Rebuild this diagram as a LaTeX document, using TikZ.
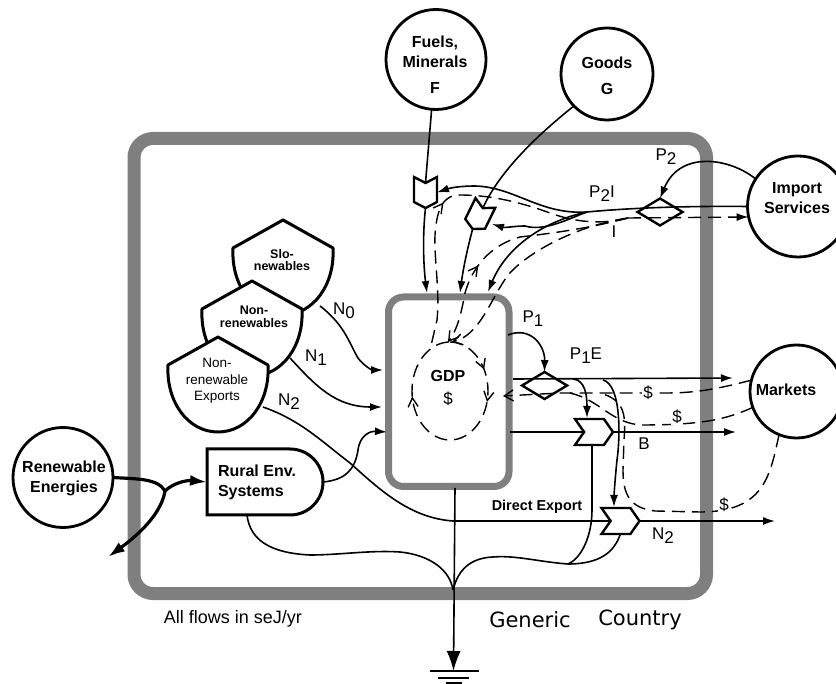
\documentclass[tikz,border=0pt]{standalone}
\usepackage{fontspec}
\setmainfont{Liberation Sans}
\newfontfamily\wideface{DejaVu Sans}
\usepackage{xcolor}
\usetikzlibrary{arrows.meta,calc,shapes.geometric,shapes.symbols,shapes.misc,decorations.markings}
\definecolor{framegray}{HTML}{7F7F7F}
\newcommand{\subtxt}[2]{#1\raisebox{-4pt}{#2}}
\tikzset{
  source/.style={draw,circle,line width=2.8pt,fill=white,inner sep=0pt,outer sep=0pt},
  prices/.style={draw,diamond,line width=2.4pt,inner sep=0pt,outer sep=0pt,minimum width=45pt,minimum height=27pt},
  export/.style={draw,signal,signal to=east,signal from=west,line width=2.4pt,fill=white,inner sep=0pt,outer sep=0pt,signal pointer angle=110},
  storage/.style={line width=3pt,fill=white,line join=round},
  flow/.style={line width=1.6pt},
  bigflow/.style={line width=3.2pt},
  money/.style={line width=1.4pt,dash pattern=on 13pt off 7pt},
  tip/.style={-{Latex[length=12pt,width=8pt]}},
  barb/.style={-{Straight Barb[length=9pt,width=11pt]}},
  midbarb/.style={postaction={decorate,decoration={markings,mark=at position #1 with {\arrowreversed[line width=1.4pt]{Straight Barb[length=9pt,width=10pt]}}}}},
  fwdbarb/.style={postaction={decorate,decoration={markings,mark=at position #1 with {\arrow[line width=1.4pt]{Straight Barb[length=9pt,width=10pt]}}}}},
  lab/.style={font=\fontsize{17}{19}\selectfont,inner sep=1pt},
  blab/.style={font=\fontsize{16}{20}\selectfont\bfseries,align=center,inner sep=0pt}
}
\begin{document}
\begin{tikzpicture}[x=1pt,y=-1pt]
  \useasboundingbox (0,0) rectangle (836,684);
  \clip (0,0) rectangle (836,684);
  % frames
  \node[draw=framegray,line width=13pt,rounded corners=19pt,minimum width=572.5pt,minimum height=455pt,outer sep=0pt,inner sep=0pt] (country) at (420.25,366) {};
  \node[draw=framegray,line width=7pt,rounded corners=15pt,minimum width=120.5pt,minimum height=189.5pt,outer sep=0pt,inner sep=0pt] (gdp) at (448.75,391.75) {};
  % outside sources
  \node[source,minimum size=100pt] (fuels) at (436,59.5) {};
  \node[source,minimum size=92pt] (goods) at (607,74) {};
  \node[source,minimum size=101pt] (import) at (798,206.5) {};
  \node[source,minimum size=93pt] (markets) at (796.5,391.5) {};
  \node[source,minimum size=100pt] (renew) at (63,477.5) {};
  \node[draw,rounded rectangle,rounded rectangle left arc=none,line width=3pt,minimum width=116pt,minimum height=66pt,inner sep=0pt,outer sep=0pt] (rural) at (265,482) {};
  % price and exchange symbols
  \node[prices] (pimp) at (660,212) {};
  \node[prices] (pexp) at (544.5,385.5) {};
  \node[export,minimum width=31pt,minimum height=23pt,rotate=-90,signal pointer angle=125] (fint) at (425.5,192.5) {};
  \node[export,minimum width=29pt,minimum height=22pt,rotate=-116,signal pointer angle=125] (gint) at (479,216) {};
  % end points
  \coordinate (split) at (587,212);
  \coordinate (dsplit) at (628,218);
  \coordinate (gdpa) at (427,293);
  \coordinate (gdpb) at (460,293);
  \coordinate (gdpc) at (488,292);
  \coordinate (gintr) at (492,224);
  \coordinate (gdpp) at (508,335);
  \coordinate (gdpe) at (513,379);
  \coordinate (gdpx) at (510,432);
  \coordinate (gdpl) at (455,488);
  \coordinate (outa) at (733,378);
  \coordinate (outb) at (736,432);
  \coordinate (outc) at (775,521);
  \coordinate (merge) at (568,564);
  \coordinate (sink) at (453,590);
  \coordinate (gnd) at (453.5,671);
  \coordinate (nzero) at (320,306);
  \coordinate (none) at (290,358);
  \coordinate (ntwo) at (263,407);
  \coordinate (spill) at (108,557);
  \coordinate (fork) at (165,491);
  % imports
  \draw[flow] (fuels.-95) -- (fint.west);
  \draw[flow] (goods.-136) .. controls (540,133) and (500,170) .. (gint.west);
  \draw[flow,tip] (fint.east) .. controls (422,240) and (424,270) .. (gdpa);
  \draw[flow,tip] (gint.east) .. controls (467,250) and (463,270) .. (gdpb);
  \draw[flow] (import.west) .. controls (700,206) and (640,207) .. (split);
  \draw[flow,tip] (split) .. controls (540,215) and (515,187) .. (475,186) .. controls (460,186) and (450,188) .. (fint.north);
  \draw[flow,tip] (split) .. controls (570,218) and (545,232) .. (525,226) .. controls (515,226) and (505,228) .. (gintr);
  \draw[flow,tip] (split) .. controls (540,222) and (505,250) .. (gdpc);
  \draw[flow,tip] (import.147) .. controls (730,158) and (680,150) .. (pimp.north);
  \draw[money,tip] (dsplit) -- (import.192);
  \draw[money,midbarb=0.56] (dsplit) .. controls (600,225) and (575,222) .. (550,213) .. controls (520,202) and (490,195) .. (460,195) .. controls (445,195) and (437,205) .. (435,235) .. controls (434,260) and (440,290) .. (437,320) -- (430,350);
  \draw[money,midbarb=0.66,barb] (dsplit) .. controls (590,228) and (555,233) .. (520,237) .. controls (490,245) and (472,268) .. (465,293) .. controls (461,315) and (457,330) .. (448,342);
  \draw[money,barb] (dsplit) .. controls (580,225) and (530,250) .. (508,275) .. controls (490,300) and (480,335) .. (452,342);
  % money cycle
  \draw[money,fwdbarb=0.17,fwdbarb=0.29,fwdbarb=0.73] (450,342) .. controls (471,342) and (488,364) .. (488,391) .. controls (488,418) and (471,440) .. (450,440) .. controls (429,440) and (412,418) .. (412,391) .. controls (412,364) and (429,342) .. (450,342);
  % exports
  \draw[flow,tip] (gdpp) .. controls (530,326) and (545,345) .. (pexp.north);
  \draw[flow,tip] (gdpe) -- (outa);
  \draw[flow,tip] (573,379) .. controls (585,380) and (587,395) .. (587,418);
  \draw[flow,tip] (603,380) .. controls (622,385) and (620,440) .. (617,460) .. controls (615,480) and (614,495) .. (614,507);
  \draw[flow,tip] (gdpx) -- (outb);
  \draw[money,barb] (markets.166) .. controls (720,388) and (700,393) .. (665,393) -- (560,393) -- (503,396);
  \draw[money] (markets.200) .. controls (725,420) and (700,425) .. (640,425) .. controls (610,422) and (600,400) .. (570,393);
  \draw[money] (markets.248) .. controls (770,475) and (765,512) .. (700,512) -- (655,511) .. controls (630,508) and (623,495) .. (623,470) -- (624,440) .. controls (626,415) and (625,400) .. (600,393);
  % resources into the economy
  \draw[flow,tip] (nzero) .. controls (345,325) and (350,345) .. (358,358) .. controls (364,366) and (372,370) .. (383,370);
  \draw[flow,tip] (none) .. controls (315,385) and (335,407) .. (382,407);
  \draw[flow,tip] (ntwo) .. controls (300,420) and (320,440) .. (350,463) .. controls (380,490) and (410,518) .. (453,521) -- (outc);
  \draw[flow,tip] (rural.east) .. controls (345,480) and (355,470) .. (358,450) .. controls (360,435) and (370,431) .. (387,432);
  \draw[bigflow] (renew.east) .. controls (135,479) and (158,478) .. (fork);
  \draw[bigflow,-{Latex[length=17pt,width=11pt]}] (fork) .. controls (172,484) and (185,480) .. (rural.west);
  \draw[bigflow,-{Latex[length=17pt,width=11pt]}] (fork) .. controls (162,510) and (145,530) .. (spill);
  % losses to the sink
  \draw[flow] (rural.south west) ++(40,0) .. controls (250,540) and (270,553) .. (310,555) .. controls (340,555) and (370,550) .. (400,552) .. controls (430,555) and (450,570) .. (sink);
  \draw[flow] (merge) .. controls (540,562) and (515,555) .. (493,557) .. controls (470,558) and (458,570) .. (sink);
  \draw[flow,-{Latex[length=20pt,width=14pt]}] (gdpl) -- (gnd);
  \draw[line width=1.5pt] ($(gnd)+(-24,0)$) -- ($(gnd)+(25,0)$);
  \draw[line width=1.5pt] ($(gnd)+(-16,7)$) -- ($(gnd)+(15,7)$);
  \draw[line width=1.5pt] ($(gnd)+(-8,12)$) -- ($(gnd)+(8,12)$);
  \node[export,minimum width=38pt,minimum height=26pt] (exb) at (594,432) {};
  \node[export,minimum width=38pt,minimum height=26pt] (exn) at (620.5,521) {};
  \draw[flow] (592,445) -- (592,510) .. controls (592,535) and (582,558) .. (merge);
  \draw[flow] (620,535) .. controls (614,552) and (600,564) .. (merge);
  % shields, back to front
  \foreach \sx/\sy in {283/220,252/281,218/337}{
    \draw[storage,shift={(\sx,\sy)}] (0,0) -- (50,28) .. controls (52,65) and (30,95) .. (0,95) .. controls (-30,95) and (-52,65) .. (-50,28) -- cycle;
  }
  % labels
  \node[blab] (fuelslbl) at (435,65) {Fuels,\\Minerals\\[6pt]F};
  \node[blab] (goodslbl) at (607,76) {Goods\\[6pt]G};
  \node[blab] (importlbl) at (797,198.5) {Import\\Services};
  \node[blab] (marketslbl) at (786,390) {Markets};
  \node[blab] (renewlbl) at (64,478) {Renewable\\Energies};
  \node[blab,align=left] (rurallbl) at (257,482) {Rural Env.\\Systems};
  \node[blab,font=\fontsize{12.5}{12.5}\selectfont\bfseries] (slolbl) at (282,260) {Slo-\\newables};
  \node[blab,font=\fontsize{12.5}{12.5}\selectfont\bfseries] (nonlbl) at (254,317) {Non-\\renewables};
  \node[blab,font=\fontsize{13.5}{16.5}\selectfont] (explbl) at (217,381) {Non-\\renewable\\Exports};
  \node[blab] (gdplbl) at (448,376) {GDP};
  \node[lab] (dollar) at (448,399) {\$};
  \node[lab] at (666,157) (ptwo) {\subtxt{P}{2}};
  \node[lab] at (602,194) (ptwoi) {\subtxt{P}{2}I};
  \node[lab] at (614,232) (ilbl) {I};
  \node[lab] at (533,319) (pone) {\subtxt{P}{1}};
  \node[lab] at (586,356) (ponee) {\subtxt{P}{1}E};
  \node[lab] at (344,311) (nzlbl) {\subtxt{N}{0}};
  \node[lab] at (316,358) (nolbl) {\subtxt{N}{1}};
  \node[lab] at (289,402) (ntlbl) {\subtxt{N}{2}};
  \node[lab] at (663,536) (ntwob) {\subtxt{N}{2}};
  \node[lab] at (644,444) (blbl) {B};
  \node[lab,fill=white] at (648,393) (dollara) {\$};
  \node[lab,fill=white] at (677,417) (dollarb) {\$};
  \node[lab,fill=white] at (724,505) (dollarc) {\$};
  \node[blab,font=\fontsize{14.4}{16}\selectfont\bfseries] (directlbl) at (537,507) {Direct Export};
  \node[lab,font=\fontsize{18}{20}\selectfont] (flowslbl) at (233,619) {All flows in seJ/yr};
  \node[lab,font=\fontsize{21}{23}\selectfont\wideface] (genericlbl) at (530,620) {Generic};
  \node[lab,font=\fontsize{21}{23}\selectfont\wideface] (countrylbl) at (640,620) {Country};
\end{tikzpicture}
\end{document}
